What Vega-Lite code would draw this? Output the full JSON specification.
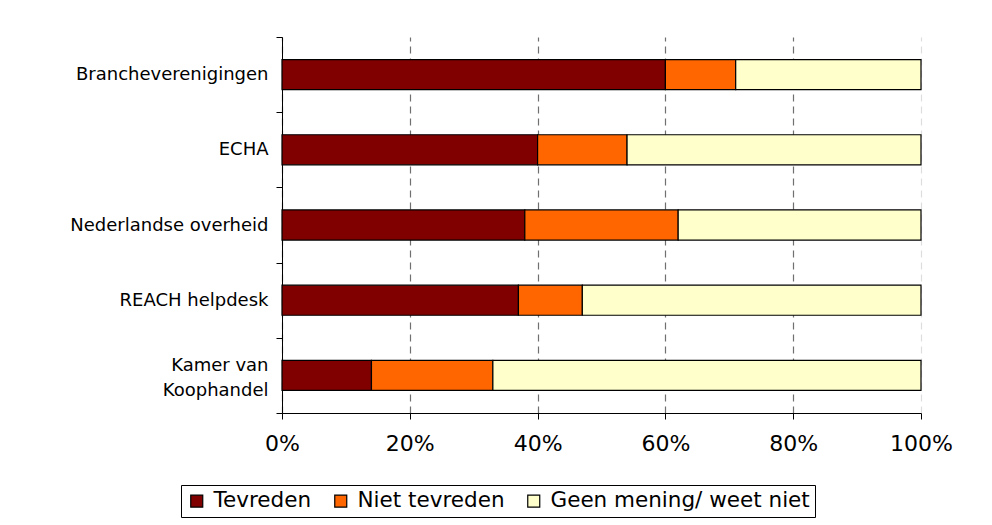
{
  "$schema": "https://vega.github.io/schema/vega-lite/v6.json",
  "width": 639,
  "height": 376,
  "autosize": {"type": "none"},
  "padding": {"left": 282, "top": 37, "right": 71, "bottom": 112},
  "background": "white",
  "data": {
    "values": [
      {"org": "Brancheverenigingen", "cat": "Tevreden", "order": 1, "v": 60},
      {"org": "Brancheverenigingen", "cat": "Niet tevreden", "order": 2, "v": 11},
      {"org": "Brancheverenigingen", "cat": "Geen mening/ weet niet", "order": 3, "v": 29},
      {"org": "ECHA", "cat": "Tevreden", "order": 1, "v": 40},
      {"org": "ECHA", "cat": "Niet tevreden", "order": 2, "v": 14},
      {"org": "ECHA", "cat": "Geen mening/ weet niet", "order": 3, "v": 46},
      {"org": "Nederlandse overheid", "cat": "Tevreden", "order": 1, "v": 38},
      {"org": "Nederlandse overheid", "cat": "Niet tevreden", "order": 2, "v": 24},
      {"org": "Nederlandse overheid", "cat": "Geen mening/ weet niet", "order": 3, "v": 38},
      {"org": "REACH helpdesk", "cat": "Tevreden", "order": 1, "v": 37},
      {"org": "REACH helpdesk", "cat": "Niet tevreden", "order": 2, "v": 10},
      {"org": "REACH helpdesk", "cat": "Geen mening/ weet niet", "order": 3, "v": 53},
      {"org": "Kamer van Koophandel", "cat": "Tevreden", "order": 1, "v": 14},
      {"org": "Kamer van Koophandel", "cat": "Niet tevreden", "order": 2, "v": 19},
      {"org": "Kamer van Koophandel", "cat": "Geen mening/ weet niet", "order": 3, "v": 67}
    ]
  },
  "mark": {"type": "bar", "stroke": "black", "strokeWidth": 1.2, "height": {"band": 0.4}},
  "encoding": {
    "y": {
      "field": "org",
      "type": "nominal",
      "sort": null,
      "title": null,
      "scale": {"paddingInner": 0, "paddingOuter": 0},
      "axis": {
        "domainColor": "black",
        "domainWidth": 1,
        "tickColor": "black",
        "tickSize": 6,
        "tickBand": "extent",
        "labelPadding": 8,
        "labelFont": "DejaVu Sans",
        "labelFontSize": 18,
        "labelColor": "black",
        "labelLimit": 400,
        "labelLineHeight": 25,
        "labelOffset": {"condition": {"test": "datum.value == 'Kamer van Koophandel'", "value": -10}, "value": 0},
        "labelExpr": "datum.value == 'Kamer van Koophandel' ? ['Kamer van', 'Koophandel'] : datum.label",
        "grid": false
      }
    },
    "x": {
      "field": "v",
      "type": "quantitative",
      "stack": "normalize",
      "title": null,
      "scale": {"domain": [0, 1], "nice": false},
      "axis": {
        "values": [0, 0.2, 0.4, 0.6, 0.8, 1],
        "format": ".0%",
        "domainColor": "black",
        "tickColor": "black",
        "tickSize": 6,
        "labelPadding": 14,
        "labelFont": "DejaVu Sans",
        "labelFontSize": 22,
        "labelColor": "black",
        "labelFlush": false,
        "grid": true,
        "gridColor": {"condition": {"test": "datum.value >= 1", "value": "#dddddd"}, "value": "#707070"},
        "gridDash": [7, 5],
        "gridWidth": 1.2
      }
    },
    "color": {
      "field": "cat",
      "type": "nominal",
      "sort": ["Tevreden", "Niet tevreden", "Geen mening/ weet niet"],
      "scale": {
        "domain": ["Tevreden", "Niet tevreden", "Geen mening/ weet niet"],
        "range": ["#800000", "#FF6600", "#FFFFCC"]
      },
      "legend": {
        "title": null,
        "orient": "none",
        "legendX": -101,
        "legendY": 448,
        "direction": "horizontal",
        "strokeColor": "black",
        "padding": 5,
        "symbolType": "square",
        "symbolSize": 144,
        "symbolStrokeColor": "black",
        "symbolStrokeWidth": 1.2,
        "labelFont": "DejaVu Sans",
        "labelFontSize": 21.5,
        "labelColor": "black",
        "labelOffset": 6,
        "columnPadding": 18,
        "labelLimit": 400
      }
    },
    "order": {"field": "order", "type": "quantitative"}
  },
  "config": {"view": {"stroke": null}}
}
